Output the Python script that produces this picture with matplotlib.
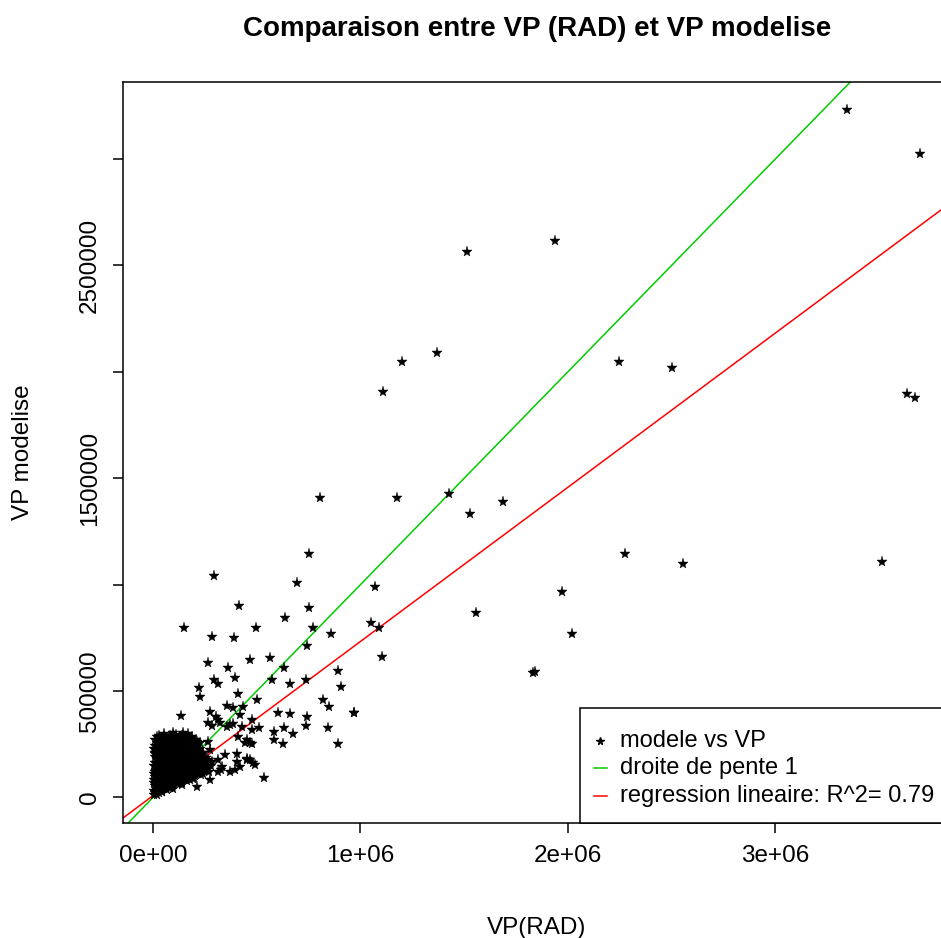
import matplotlib
matplotlib.use("Agg")
import matplotlib.pyplot as plt
from matplotlib.lines import Line2D
from matplotlib.patches import Rectangle
import numpy as np

plt.rcParams['font.family'] = ['Liberation Sans', 'DejaVu Sans']

# VP(RAD) and modelled VP, in thousands
vp_rad_k = [
    3345, 3696, 1513, 1937, 1369, 1200, 1108, 2246, 2501, 3634, 3672,
    805, 1176, 1426, 1528, 1687, 2275, 2554, 3513, 752, 294, 694, 1072, 1971, 1557, 2017, 1841, 1831, 1106, 1053, 1089,
    416, 752, 638, 149, 496, 769, 856, 283, 391, 742, 266, 466, 565, 363, 632, 893, 296, 311, 393, 572, 659, 739, 906,
    220, 225, 409, 503, 817, 847, 969, 971, 355, 387, 435, 275, 305, 419, 602, 658, 741, 134, 845, 735, 893, 585, 633,
    676, 585, 628, 533, 512, 476, 476, 467, 492,
    58, 98, 146, 186, 226, 266, 243, 10, 18, 275, 283, 331, 371, 419, 452, 311, 275, 211,
    443, 411, 476, 371, 315, 266, 395, 406, 452, 483, 315, 326, 347, 403, 452, 467, 284, 323, 357, 385, 429,
    4, 18,
    6, 24, 43, 66,
    9, 28, 51, 77, 101,
    3, 31, 57, 84, 112, 139, 163,
    12, 38, 62, 89, 117, 143, 171, 199,
    4, 27, 54, 79, 106, 131, 158, 186, 214, 243,
    15, 41, 68, 95, 122, 149, 177, 204, 232, 259,
    6, 32, 59, 86, 113, 141, 168, 195, 223, 250, 279,
    17, 44, 71, 98, 126, 152, 181, 208, 236, 264,
    8, 35, 62, 90, 117, 145, 173, 201, 229, 255,
    22, 49, 77, 104, 132, 159, 187, 214, 241,
    5, 33, 61, 88, 116, 144, 171, 199, 227,
    19, 47, 74, 102, 130, 157, 185, 212,
    11, 40, 68, 96, 124, 152, 179, 206,
    27, 55, 83, 112, 140, 167,
    8, 27, 45,
    14, 34, 55, 80, 97,
    18, 40, 65, 90, 118, 142,
    7, 22, 46, 72, 98, 125, 150, 176, 192,
    16, 42, 69, 94, 121, 148, 175, 202, 230,
    9, 36, 62, 90, 114, 138, 166, 192, 220, 248, 270,
    20, 48, 75, 102, 130, 157, 186, 213, 240, 266,
    12, 38, 65, 92, 120, 147, 174, 201, 230, 257,
    25, 52, 80, 108, 135, 162, 190, 218, 245,
    12, 40, 68, 95, 123, 150, 178, 205, 232,
    28, 56, 84, 111, 139, 166, 193, 220,
    10, 38, 66, 93, 121, 149, 176, 203,
    33, 60, 88, 116, 144, 171, 197,
    18, 47, 76, 104, 132, 160,
]
vp_modelise_k = [
    3229, 3022, 2562, 2614, 2088, 2045, 1905, 2045, 2017, 1895, 1876,
    1407, 1407, 1426, 1330, 1388, 1144, 1097, 1106, 1144, 1040, 1007, 989, 965, 867, 768, 591, 587, 661, 822, 794,
    898, 889, 842, 795, 795, 795, 767, 756, 747, 710, 634, 646, 654, 607, 607, 596, 552, 533, 560, 552, 533, 552, 521,
    513, 473, 485, 457, 460, 426, 397, 395, 430, 419, 427, 400, 376, 388, 399, 392, 380, 383, 325, 336, 251, 308, 325,
    297, 270, 250, 90, 325, 317, 250, 176, 153,
    262, 302, 302, 286, 255, 262, 208, 208, 161, 223, 168, 145, 121, 145, 176, 121, 82, 51,
    255, 286, 364, 341, 364, 348, 129, 168, 181, 161, 176, 129, 200, 204, 270, 255, 336, 350, 331, 345, 331,
    10, 14,
    30, 36, 28, 34,
    55, 49, 57, 50, 58,
    70, 76, 68, 74, 79, 70, 77,
    95, 88, 97, 90, 96, 88, 99, 93,
    110, 117, 108, 114, 119, 109, 116, 112, 118, 110,
    130, 136, 128, 134, 139, 127, 135, 131, 138, 129,
    150, 157, 148, 155, 151, 159, 147, 156, 152, 158, 149,
    175, 169, 176, 171, 178, 168, 174, 179, 170, 177,
    190, 196, 189, 194, 199, 188, 195, 191, 198, 187,
    214, 209, 216, 211, 218, 206, 213, 219, 208,
    230, 236, 228, 235, 231, 238, 229, 234, 227,
    255, 249, 256, 251, 258, 247, 253, 259,
    270, 276, 268, 274, 279, 269, 275, 271,
    290, 296, 289, 294, 288, 297,
    22, 20, 24,
    42, 45, 40, 44, 41,
    63, 60, 65, 61, 64, 60,
    83, 80, 85, 81, 86, 82, 84, 80, 86,
    103, 100, 105, 101, 106, 100, 104, 102, 105,
    121, 125, 120, 124, 122, 126, 120, 124, 121, 125, 120,
    143, 140, 145, 141, 146, 140, 144, 141, 145, 142,
    163, 160, 165, 161, 166, 160, 164, 162, 165, 161,
    183, 180, 185, 181, 186, 180, 184, 182, 185,
    203, 200, 205, 201, 206, 200, 204, 202, 205,
    223, 220, 225, 221, 226, 220, 224, 222,
    243, 240, 245, 241, 246, 240, 244, 242,
    263, 260, 265, 261, 266, 260, 264,
    283, 280, 285, 281, 286, 280,
]

# Linear regression of modelled VP on VP(RAD)
reg_intercept = 8500.0
reg_slope = 0.7245
r_squared = 0.79

x_ticks = [0, 1e6, 2e6, 3e6]
x_tick_labels = ["0e+00", "1e+06", "2e+06", "3e+06"]
y_ticks = [0, 5e5, 1e6, 1.5e6, 2e6, 2.5e6, 3e6]
y_tick_labels = ["0", "500000", "", "1500000", "", "2500000", ""]

x = np.array(vp_rad_k) * 1e3
y = np.array(vp_modelise_k) * 1e3

FS = 17.5
W, H = 941, 938
fig = plt.figure(figsize=(W / 100, H / 100), dpi=100)
fig.patch.set_facecolor("white")
L, R, T, B = 123, 951, 82, 823
ax = fig.add_axes([L / W, 1 - B / H, (R - L) / W, (B - T) / H])

xlim = (-0.1446e6, 3.846e6)
ax.plot(x, y, linestyle="none", marker="*", markersize=8, color="black",
        markeredgewidth=0.3, zorder=3)

xx = np.array(xlim)
ax.plot(xx, xx, color="#00cc00", lw=1.1, zorder=2)
ax.plot(xx, reg_intercept + reg_slope * xx, color="#ff0000", lw=1.1, zorder=2)
ax.set_xlim(*xlim)
ax.set_ylim(-0.1198e6, 3.361e6)

for s in ax.spines.values():
    s.set_linewidth(1.1)
    s.set_color("black")

ax.set_xticks(x_ticks)
ax.set_xticklabels(x_tick_labels)
ax.set_yticks(y_ticks)
ax.set_yticklabels(y_tick_labels, rotation=90, va="center")
ax.tick_params(axis="both", direction="out", length=7, width=1.1, labelsize=FS, colors="black")
ax.tick_params(axis="x", pad=9)
ax.tick_params(axis="y", pad=9)

ax.set_xlabel("VP(RAD)", fontsize=FS, labelpad=36)
ax.set_ylabel("VP modelise", fontsize=FS, labelpad=32)

fig.text(537 / W, 1 - 29 / H, "Comparaison entre VP (RAD) et VP modelise",
         ha="center", va="center", fontsize=20, fontweight="bold")

# Legend box anchored to the bottom-right of the plotting region
lx0, ly0 = 580, 708
fig.patches.append(Rectangle((lx0 / W, 1 - B / H), (R + 20 - lx0) / W, (B - ly0) / H,
                             transform=fig.transFigure, facecolor="white",
                             edgecolor="black", lw=1.1, zorder=5))
rows = [741, 768, 796]
labels = ["modele vs VP", "droite de pente 1",
          "regression lineaire: R^2= %.2f" % r_squared]
fig.lines.append(Line2D([600 / W], [1 - rows[0] / H], marker="*", markersize=5.5,
                        color="black", linestyle="none", transform=fig.transFigure, zorder=6))
fig.lines.append(Line2D([594 / W, 607 / W], [1 - rows[1] / H] * 2, color="#00cc00",
                        lw=1.1, transform=fig.transFigure, zorder=6))
fig.lines.append(Line2D([594 / W, 607 / W], [1 - rows[2] / H] * 2, color="#ff0000",
                        lw=1.1, transform=fig.transFigure, zorder=6))
for r, lab in zip(rows, labels):
    fig.text(620 / W, 1 - r / H, lab, ha="left", va="center", fontsize=17, zorder=7)

fig.savefig("out.png", dpi=100, facecolor="white")
